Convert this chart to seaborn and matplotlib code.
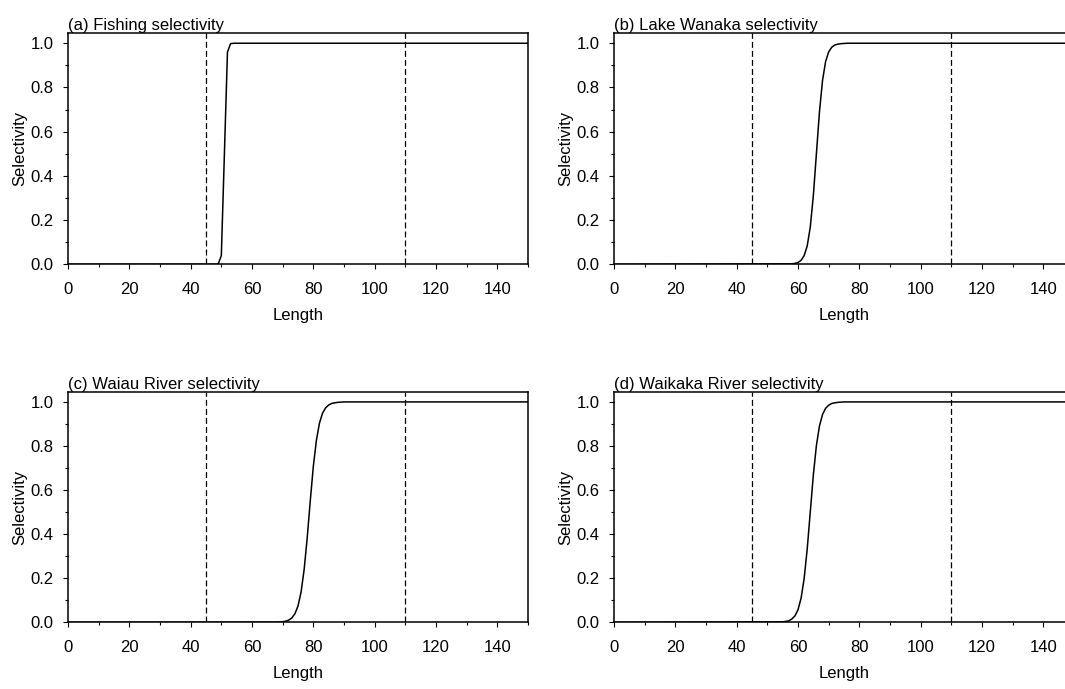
import matplotlib
matplotlib.use("Agg")
import matplotlib.pyplot as plt
import seaborn as sns
import pandas as pd
from matplotlib.ticker import MultipleLocator, FormatStrFormatter

# ---- data ----
titles = ["(a) Fishing selectivity", "(b) Lake Wanaka selectivity",
          "(c) Waiau River selectivity", "(d) Waikaka River selectivity"]

len_a = [0, 48, 49, 50, 51, 52, 53, 54, 150]
sel_a = [0.0, 0.0001, 0.002, 0.04, 0.50, 0.96, 0.998, 1.0, 1.0]

len_b = [0, 58, 59, 60, 61, 62, 63, 64, 65, 66, 67, 68, 69, 70, 71, 72, 73, 74, 75, 76, 150]
sel_b = [0.0, 0.002, 0.004, 0.008, 0.018, 0.039, 0.083, 0.168, 0.310, 0.500, 0.690,
         0.832, 0.917, 0.961, 0.982, 0.992, 0.996, 0.998, 0.999, 1.0, 1.0]

len_c = [0, 68, 69, 70, 71, 72, 73, 74, 75, 76, 77, 78, 79, 80, 81, 82, 83, 84, 85, 86,
         87, 88, 89, 90, 150]
sel_c = [0.0, 0.0007, 0.0014, 0.003, 0.005, 0.010, 0.020, 0.039, 0.074, 0.137, 0.239,
         0.383, 0.551, 0.708, 0.826, 0.904, 0.949, 0.973, 0.986, 0.993, 0.996, 0.998,
         0.999, 1.0, 1.0]

len_d = [0, 55, 56, 57, 58, 59, 60, 61, 62, 63, 64, 65, 66, 67, 68, 69, 70, 71, 72, 73,
         74, 75, 150]
sel_d = [0.0, 0.002, 0.004, 0.007, 0.015, 0.029, 0.057, 0.109, 0.198, 0.332, 0.500,
         0.668, 0.802, 0.891, 0.943, 0.971, 0.985, 0.993, 0.996, 0.998, 0.999, 1.0, 1.0]

ref_lengths = [45, 110]

series = [(len_a, sel_a), (len_b, sel_b), (len_c, sel_c), (len_d, sel_d)]

# ---- style ----
sns.set_theme(style="ticks")
plt.rcParams.update({
    "font.family": ["Liberation Sans", "DejaVu Sans"],
    "font.size": 12,
    "axes.edgecolor": "black",
    "axes.linewidth": 1.1,
    "xtick.color": "black",
    "ytick.color": "black",
    "text.color": "black",
    "axes.labelcolor": "black",
    "xtick.direction": "out",
    "ytick.direction": "out",
    "xtick.major.size": 3.3,
    "ytick.major.size": 3.6,
    "xtick.minor.size": 2.2,
    "ytick.minor.size": 2.2,
    "xtick.major.width": 0.8,
    "ytick.major.width": 0.8,
    "xtick.minor.width": 0.8,
    "ytick.minor.width": 0.8,
    "xtick.major.pad": 9.5,
    "ytick.major.pad": 7.0,
    "xtick.labelsize": 12,
    "ytick.labelsize": 12,
    "lines.scale_dashes": False,
})

fig = plt.figure(figsize=(10.65, 6.89), dpi=100)
W, H = 1065.0, 689.0
ax_w = 460.0 / W
positions = [
    [68.0 / W, (H - 264.3) / H, ax_w, 231.0 / H],
    [614.0 / W, (H - 264.3) / H, ax_w, 231.0 / H],
    [68.0 / W, (H - 622.3) / H, ax_w, 230.3 / H],
    [614.0 / W, (H - 622.3) / H, ax_w, 230.3 / H],
]

for pos, title, (xs, ys) in zip(positions, titles, series):
    ax = fig.add_axes(pos)
    df = pd.DataFrame({"Length": xs, "Selectivity": ys})
    sns.lineplot(data=df, x="Length", y="Selectivity", ax=ax, color="black",
                 linewidth=1.1, estimator=None, sort=False)
    for r in ref_lengths:
        ax.axvline(r, color="black", linewidth=0.9, linestyle=(0, (4.3, 2.2)))
    ax.set_xlim(0, 150)
    ax.set_ylim(0, 1.045)
    ax.xaxis.set_major_locator(MultipleLocator(20))
    ax.xaxis.set_minor_locator(MultipleLocator(10))
    ax.yaxis.set_major_locator(MultipleLocator(0.2))
    ax.yaxis.set_minor_locator(MultipleLocator(0.1))
    ax.yaxis.set_major_formatter(FormatStrFormatter("%.1f"))
    for s in ax.spines.values():
        s.set_visible(True)
        s.set_linewidth(1.1)
    ax.set_xlabel("Length", fontsize=12, labelpad=8.0)
    ax.set_ylabel("Selectivity", fontsize=12, labelpad=2.0)
    ax.set_title(title, loc="left", fontsize=12, pad=2.5)

fig.savefig("out.png", dpi=100)
